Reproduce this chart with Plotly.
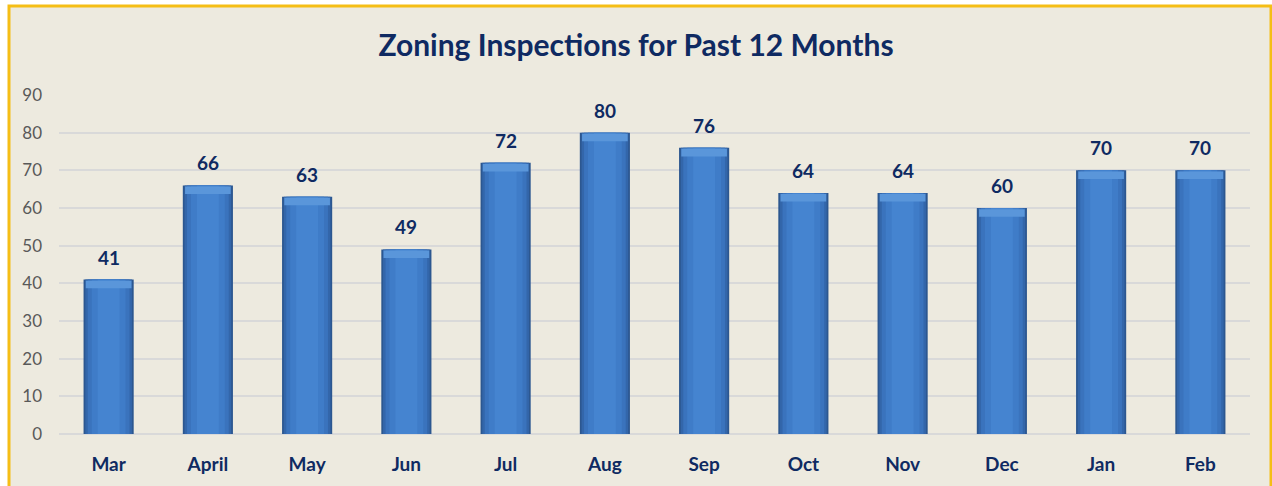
import plotly.graph_objects as go

months = ["Mar", "April", "May", "Jun", "Jul", "Aug", "Sep", "Oct", "Nov", "Dec", "Jan", "Feb"]
inspections = [41, 66, 63, 49, 72, 80, 76, 64, 64, 60, 70, 70]
y_ticks = [0, 10, 20, 30, 40, 50, 60, 70, 80, 90]

W, H = 1272, 486
L, R, T, B = 59, 22, 95, 52
pw, ph = W - L - R, H - T - B
NAVY = "#0F2A62"

def px_x(x):
    return (x - L) / pw

def px_y(y):
    return (H - B - y) / ph

fig = go.Figure()
# layered bars give a simple horizontal shading (dark edges, lighter centre)
layers = [(0.505, "#2C5790"), (0.47, "#3366AA"), (0.42, "#3A73BD"), (0.34, "#3F7CC8"), (0.22, "#4584D0")]
for i, (w, c) in enumerate(layers):
    fig.add_trace(go.Bar(
        x=months, y=inspections, width=w,
        marker=dict(color=c, line=dict(width=0)),
        hoverinfo=None if i == 0 else "skip",
    ))
# lighter bevel band at the top of each bar
cap = 2.0
fig.add_trace(go.Bar(
    x=months, y=[cap] * len(inspections), base=[v - cap - 0.3 for v in inspections], width=0.46,
    marker=dict(color="#5A96DA", line=dict(width=0)), hoverinfo="skip",
))

for m, v in zip(months, inspections):
    fig.add_annotation(x=m, y=v, text=f"<b>{v}</b>", showarrow=False,
                       yanchor="bottom", yshift=9,
                       font=dict(family="Lato", size=19, color=NAVY))

fig.add_shape(type="rect", xref="paper", yref="paper",
              x0=px_x(9), x1=px_x(1271), y0=px_y(6), y1=px_y(500),
              fillcolor="#EDEADF", line=dict(color="#F5BE16", width=3), layer="below")

fig.update_layout(
    width=W, height=H,
    margin=dict(l=L, r=R, t=T, b=B),
    paper_bgcolor="white", plot_bgcolor="rgba(0,0,0,0)",
    barmode="overlay",
    showlegend=False,
    title=dict(text="<b>Zoning Inspections for Past 12 Months</b>", x=0.5, xanchor="center",
               y=1 - 45 / H, yanchor="middle",
               font=dict(family="Lato", size=30, color=NAVY)),
    xaxis=dict(tickfont=dict(family="Lato", size=19, color=NAVY),
               tickprefix="<b>", ticksuffix="</b>",
               showgrid=False, showline=False, ticks="", ticklabelstandoff=17),
    yaxis=dict(range=[0, 90], tickvals=y_ticks, showgrid=True, gridcolor="#D9D9D9", gridwidth=1.5,
               zeroline=True, zerolinecolor="#D9D9D9", zerolinewidth=1.5,
               tickfont=dict(family="Lato", size=17, color="#595959"), ticklabelstandoff=16),
)

fig.write_html("out.html", config={"displayModeBar": False},
               post_script="document.body.style.margin='0';")
